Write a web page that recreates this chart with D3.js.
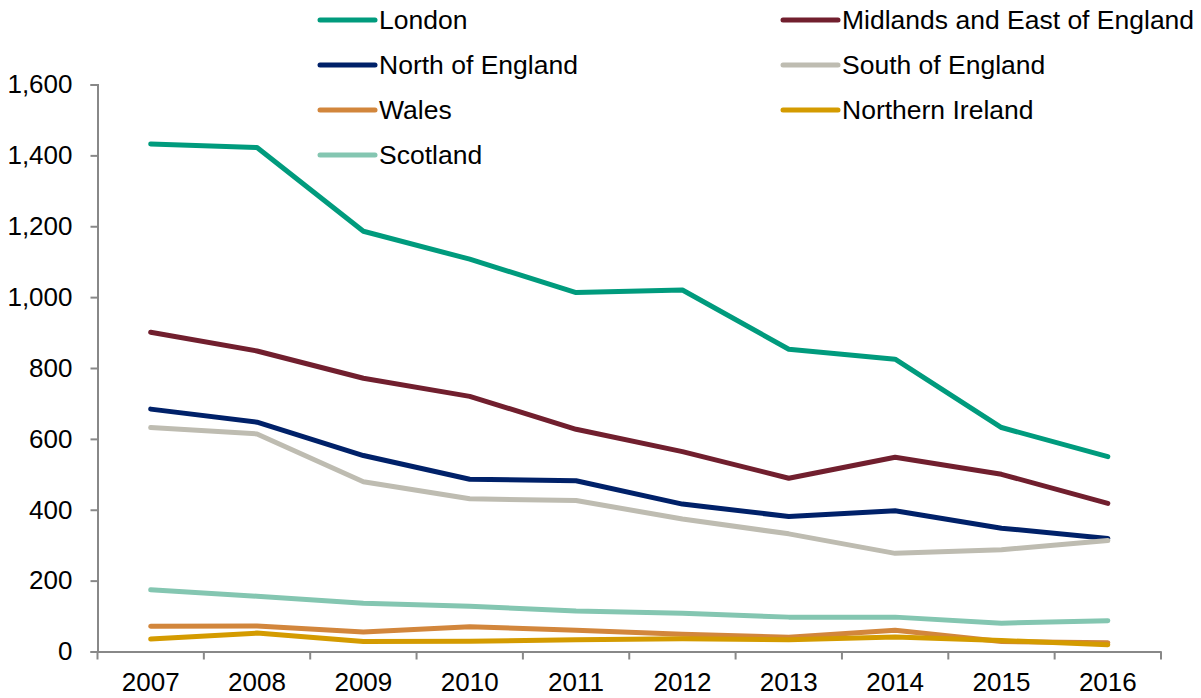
<!DOCTYPE html>
<html>
<head>
<meta charset="utf-8">
<script src="https://cdn.jsdelivr.net/npm/d3@7"></script>
<style>
  html, body { margin: 0; padding: 0; background: #fff; }
  svg { display: block; font-family: "Liberation Sans", Arial, sans-serif; }
</style>
</head>
<body>
<svg id="chart" width="1201" height="698"></svg>
<script>
const years = ["2007","2008","2009","2010","2011","2012","2013","2014","2015","2016"];
const seriesNames = ["London","Midlands and East of England","North of England","South of England","Wales","Northern Ireland","Scotland"];
const london   = [1432, 1422, 1186, 1107, 1013, 1020, 853, 825, 632, 550];
const midlands = [901, 848, 771, 720, 627, 564, 489, 548, 500, 418];
const north    = [684, 647, 553, 486, 482, 416, 381, 397, 348, 319];
const south    = [632, 614, 479, 431, 426, 374, 332, 277, 287, 313];
const wales    = [71, 72, 55, 70, 60, 49, 40, 60, 28, 25];
const nireland = [35, 52, 28, 29, 33, 36, 33, 41, 31, 19];
const scotland = [174, 156, 136, 128, 114, 108, 97, 97, 80, 87];
const yTicks = [0, 200, 400, 600, 800, 1000, 1200, 1400, 1600];
const colors = ["#009B7D", "#711F2E", "#002169", "#BEBCB1", "#D2863C", "#D49B00", "#84C6B1"];

const seriesValues = [london, midlands, north, south, wales, nireland, scotland];

const svg = d3.select("#chart");
const mLeft = 97.5, mRight = 1161, mTop = 84.5, mBottom = 651.5;
const fontSize = 26;
const legendFontSize = 26.5;

const x = d3.scaleBand().domain(years).range([mLeft, mRight]).padding(0);
const y = d3.scaleLinear().domain([0, 1600]).range([mBottom, mTop]);

// Y axis
const yAxis = svg.append("g").attr("transform", `translate(${mLeft},0)`)
  .call(d3.axisLeft(y).tickValues(yTicks).tickSize(7).tickPadding(18).tickFormat(d3.format(",")));
yAxis.select(".domain").attr("stroke", "#888").attr("stroke-width", 2);
yAxis.selectAll(".tick line").attr("stroke", "#888").attr("stroke-width", 2);
yAxis.selectAll("text").attr("font-size", fontSize).attr("fill", "#000")
  .attr("font-family", "'Liberation Sans', Arial, sans-serif");

// X axis
const xAxis = svg.append("g").attr("transform", `translate(0,${mBottom})`)
  .call(d3.axisBottom(x).tickSize(0).tickPadding(21));
xAxis.select(".domain").attr("stroke", "#888").attr("stroke-width", 2);
xAxis.selectAll("text").attr("font-size", fontSize).attr("fill", "#000")
  .attr("font-family", "'Liberation Sans', Arial, sans-serif");
const boundaries = years.map(d => x(d)).concat([x(years[years.length - 1]) + x.bandwidth()]);
xAxis.selectAll("line.bt").data(boundaries).enter().append("line")
  .attr("class", "bt")
  .attr("x1", d => d).attr("x2", d => d)
  .attr("y1", 0).attr("y2", 8)
  .attr("stroke", "#888").attr("stroke-width", 2);

// Lines
const line = d3.line()
  .x((d, i) => x(years[i]) + x.bandwidth() / 2)
  .y(d => y(d));

seriesValues.forEach((vals, i) => {
  svg.append("path")
    .datum(vals)
    .attr("d", line)
    .attr("fill", "none")
    .attr("stroke", colors[i])
    .attr("stroke-width", 5)
    .attr("stroke-linejoin", "round")
    .attr("stroke-linecap", "round");
});

// Legend
const legendCols = [320, 783];
const legendRows = [20, 65, 110, 155];
const legend = svg.append("g");
seriesNames.forEach((name, i) => {
  const cx = legendCols[i % 2];
  const cy = legendRows[Math.floor(i / 2)];
  legend.append("line")
    .attr("x1", cx).attr("x2", cx + 55)
    .attr("y1", cy).attr("y2", cy)
    .attr("stroke", colors[i]).attr("stroke-width", 5)
    .attr("stroke-linecap", "round");
  legend.append("text")
    .attr("x", cx + 59).attr("y", cy)
    .attr("dy", "0.35em")
    .attr("font-size", legendFontSize)
    .attr("fill", "#000")
    .text(name);
});
</script>
</body>
</html>
